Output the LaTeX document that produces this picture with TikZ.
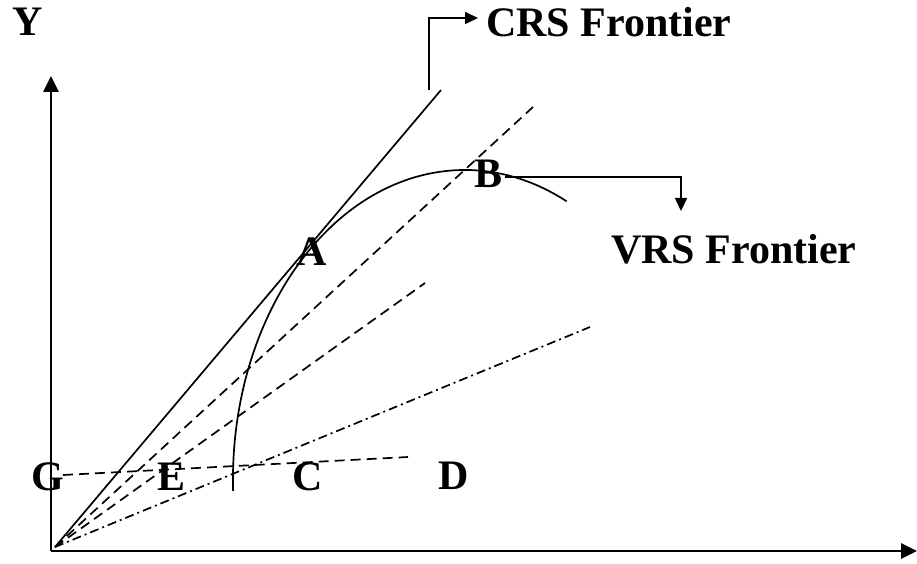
\documentclass[tikz,border=0pt]{standalone}
\usepackage{fontspec}
\setmainfont{Liberation Serif}
\usetikzlibrary{arrows.meta}

\begin{document}
\begin{tikzpicture}[x=1pt,y=1pt]
  \tikzset{axe/.style = {line width=2.8pt, -{Triangle[length=16pt,width=15pt]}},
           trait/.style = {line width=1.7pt},
           tirets/.style = {trait, dash pattern=on 10pt off 6pt},
           mixte/.style = {trait, dash pattern=on 9pt off 4pt on 2pt off 4pt},
           renvoi/.style = {trait, -{Triangle[length=13pt,width=12pt]}},
           lettre/.style = {font=\fontsize{42}{46}\selectfont\bfseries, anchor=base, inner sep=0pt}}
  \useasboundingbox (0,0) rectangle (917,563);
  \coordinate (O) at (55,16);
  \coordinate (Oaxe) at (51,12);
  % axes
  \draw[axe] (Oaxe) -- (51,487);
  \draw[axe] (Oaxe) -- (917,12);
  \node[lettre] (Y) at (28,527) {Y};
  % rayons depuis l'origine
  \coordinate (crs) at (441,473);
  \coordinate (r1) at (533,456);
  \coordinate (r2) at (425,280);
  \coordinate (r3) at (590,236);
  \draw[trait] (O) -- (crs);
  \draw[tirets] (O) -- (r1);
  \draw[tirets] (O) -- (r2);
  \draw[mixte] (O) -- (r3);
  % frontiere VRS
  \draw[trait] (233.1,72.2) arc[start angle=182, end angle=64, x radius=232, y radius=310];
  % ligne G -- D
  \coordinate (g) at (63,88);
  \coordinate (d) at (408,106);
  \draw[tirets] (g) -- (d);
  \node[lettre] (G) at (48,73) {G};
  \node[lettre] (E) at (172,73) {E};
  \node[lettre] (C) at (308,73) {C};
  \node[lettre] (D) at (454,74) {D};
  \node[lettre] (A) at (312,298) {A};
  \node[lettre] (B) at (488,375) {B};
  % legendes
  \node[lettre, anchor=base west] (CRS) at (486,526) {CRS Frontier};
  \node[lettre, anchor=base west] (VRS) at (611,300) {VRS Frontier};
  \coordinate (c1) at (429,473);
  \draw[renvoi] (c1) |- ([xshift=-8pt]CRS.west |- 0,545);
  \coordinate (v1) at (505,386);
  \draw[renvoi] (v1) -| (681,352);
\end{tikzpicture}
\end{document}
